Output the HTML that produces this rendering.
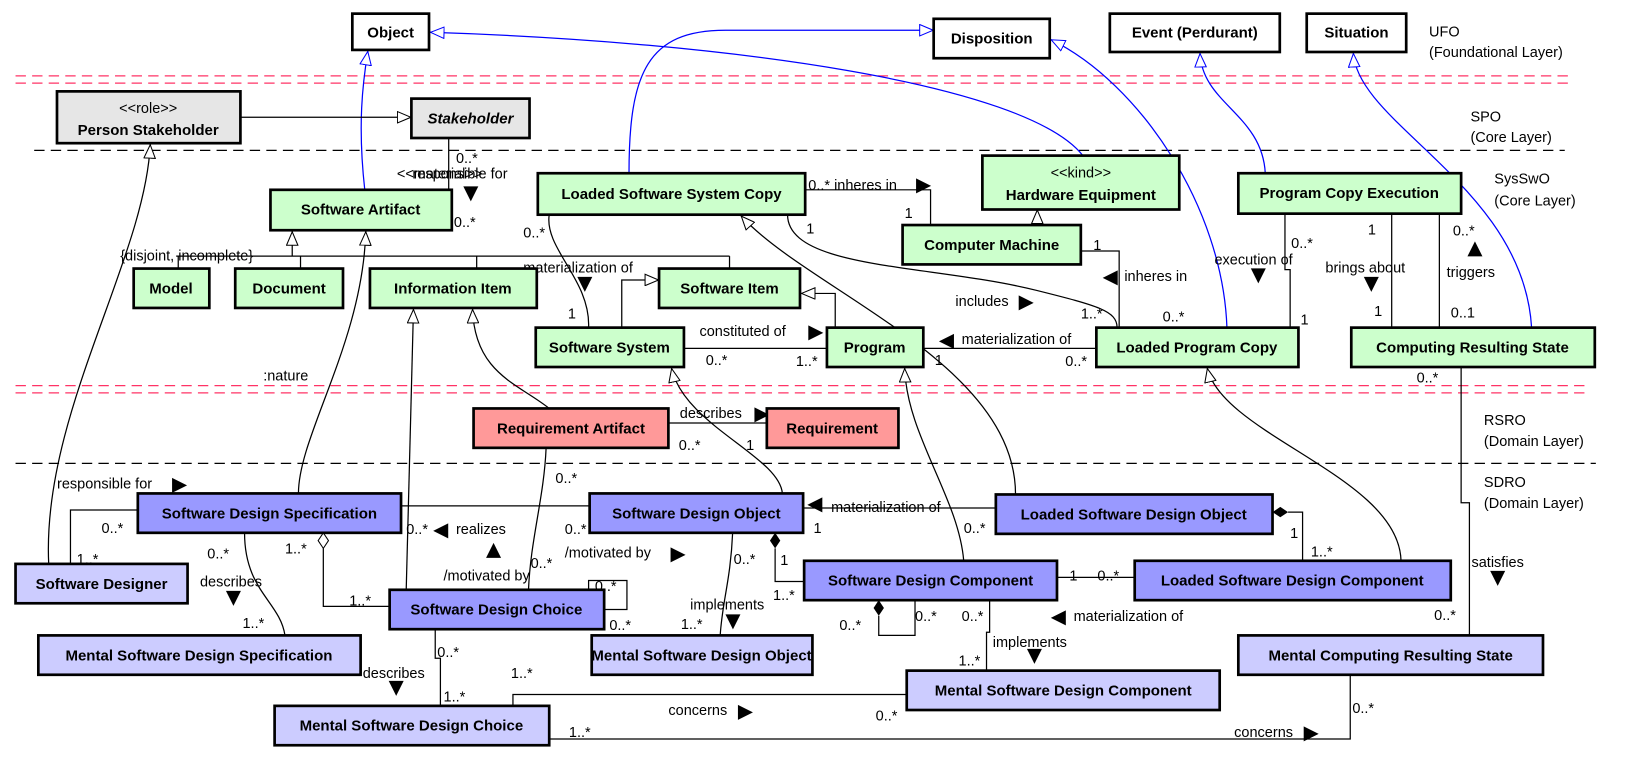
<!DOCTYPE html>
<html><head><meta charset="utf-8"><style>
html,body{margin:0;padding:0;background:#fff}
svg{display:block}
text{font-family:"Liberation Sans","DejaVu Sans",sans-serif;font-size:14px;fill:#000}
.b{font-weight:bold;text-anchor:middle;font-size:14.5px}
.a{font-family:"DejaVu Sans",sans-serif;font-size:19px}
.bx{stroke:#000;stroke-width:2.6}
.e{fill:none;stroke:#000;stroke-width:1.2}
.u{fill:none;stroke:#00f;stroke-width:1.2}
</style></head><body>
<svg width="1629" height="762" viewBox="0 0 1572 735" xmlns="http://www.w3.org/2000/svg">
<defs>
<marker id="t" viewBox="0 0 14 12" refX="14" refY="6" markerWidth="14" markerHeight="12" markerUnits="userSpaceOnUse" orient="auto"><path d="M0.5,0.5 L13.5,6 L0.5,11.5 z" fill="#fff" stroke="#000"/></marker>
<marker id="tb" viewBox="0 0 14 12" refX="14" refY="6" markerWidth="14" markerHeight="12" markerUnits="userSpaceOnUse" orient="auto"><path d="M0.5,0.5 L13.5,6 L0.5,11.5 z" fill="#fff" stroke="#00f"/></marker>
</defs>

<g stroke-dasharray="10,6" stroke-width="1.2">
<line x1="15" y1="73" x2="1518" y2="73" stroke="#ff3366"/>
<line x1="15" y1="80" x2="1518" y2="80" stroke="#ff3366"/>
<line x1="33" y1="145" x2="1510" y2="145" stroke="#000"/>
<line x1="15" y1="372" x2="1530" y2="372" stroke="#ff3366"/>
<line x1="15" y1="379" x2="1530" y2="379" stroke="#ff3366"/>
<line x1="15" y1="447" x2="1540" y2="447" stroke="#000"/>
</g>
<text x="1379" y="35">UFO</text><text x="1379" y="55">(Foundational Layer)</text>
<text x="1419" y="117">SPO</text><text x="1419" y="137">(Core Layer)</text>
<text x="1442" y="177">SysSwO</text><text x="1442" y="198">(Core Layer)</text>
<text x="1432" y="410">RSRO</text><text x="1432" y="430">(Domain Layer)</text>
<text x="1432" y="470">SDRO</text><text x="1432" y="490">(Domain Layer)</text>

<path class="u" marker-end="url(#tb)" d="M352,183 C345,120 350,80 355,49"/>
<path class="u" marker-end="url(#tb)" d="M607,167 C607,70 625,29 700,29 L901,29"/>
<path class="u" marker-end="url(#tb)" d="M1045,150 C990,80 700,40 415,31"/>
<path class="u" marker-end="url(#tb)" d="M1184,316 C1180,200 1100,80 1014,38"/>
<path class="u" marker-end="url(#tb)" d="M1221,167 C1218,110 1160,100 1158,51"/>
<path class="u" marker-end="url(#tb)" d="M1478,316 C1470,180 1310,120 1306,51"/>

<path class="e" marker-end="url(#t)" d="M232,113 L397,113"/>
<path class="e" d="M433,133 L433,201 L436,201"/>
<text x="440" y="157">0..*</text>
<text x="383" y="172">&lt;&lt;material&gt;&gt;</text><text x="398" y="172">responsible for</text>
<text x="447" y="192" class="a">▼</text>
<text x="438" y="219">0..*</text>
<path class="e" marker-end="url(#t)" d="M282,247 L282,223"/>
<path class="e" d="M170,247 L704,247 M172,247 L172,259 M290,247 L290,259 M460,247 L460,259 M704,247 L704,259"/>
<text x="116" y="251">{disjoint, incomplete}</text>
<path class="e" marker-end="url(#t)" d="M288,476 C288,420 350,330 353,223"/>
<text x="254" y="367">:nature</text>
<path class="e" marker-end="url(#t)" d="M47,544 C40,400 140,250 145,139"/>
<path class="e" marker-end="url(#t)" d="M600,316 L600,270 L636,270"/>
<path class="e" marker-end="url(#t)" d="M806,316 L806,283 L773,283"/>
<path class="e" d="M530,207 C525,240 570,270 568,316"/>
<text x="505" y="229">0..*</text><text x="505" y="263">materialization of</text><text x="557" y="279" class="a">▼</text><text x="548" y="307">1</text>
<path class="e" d="M777,183 L898,183 L898,217"/>
<text x="780" y="183">0..* inheres in</text><text x="884" y="184" class="a">▶</text><text x="873" y="210">1</text>
<path class="e" marker-end="url(#t)" d="M1001,217 L1001,202"/>
<path class="e" d="M1043,242 L1080,242 L1080,316"/>
<text x="1055" y="241">1</text><text x="1064" y="273" class="a">◀</text><text x="1085" y="271">inheres in</text><text x="1122" y="310">0..*</text>
<path class="e" d="M760,207 C760,260 900,255 1000,280 C1060,295 1078,300 1078,316"/>
<text x="778" y="225">1</text><text x="922" y="295">includes</text><text x="983" y="297" class="a">▶</text><text x="1043" y="307">1..*</text>
<path class="e" d="M660,336 L798,336"/>
<text x="675" y="324">constituted of</text><text x="780" y="326" class="a">▶</text><text x="681" y="352">0..*</text><text x="768" y="353">1..*</text>
<path class="e" d="M891,336 L1058,336"/>
<text x="906" y="334" class="a">◀</text><text x="928" y="332">materialization of</text><text x="902" y="352">1</text><text x="1028" y="353">0..*</text>
<path class="e" d="M1240,206 L1240,260 L1245,260 L1245,316"/>
<text x="1246" y="239">0..*</text><text x="1172" y="255">execution of</text><text x="1207" y="271" class="a">▼</text><text x="1255" y="313">1</text>
<path class="e" d="M1343,206 L1343,316 M1389,206 L1389,316"/>
<text x="1320" y="226">1</text><text x="1279" y="263">brings about</text><text x="1316" y="279" class="a">▼</text><text x="1326" y="305">1</text>
<text x="1402" y="227">0..*</text><text x="1416" y="245" class="a">▲</text><text x="1396" y="267">triggers</text><text x="1400" y="306">0..1</text>
<path class="e" d="M1410,354 L1410,485 L1418,485 L1418,613"/>
<text x="1367" y="369">0..*</text><text x="1420" y="547">satisfies</text><text x="1438" y="563" class="a">▼</text><text x="1384" y="598">0..*</text>
<path class="e" marker-end="url(#t)" d="M980,477 C980,350 780,280 715,208"/>
<path class="e" marker-end="url(#t)" d="M392,569 L399,298"/>
<path class="e" marker-end="url(#t)" d="M530,394 C500,370 458,360 456,298"/>
<path class="e" marker-end="url(#t)" d="M755,476 C752,440 660,410 648,355"/>
<path class="e" marker-end="url(#t)" d="M930,541 C925,480 875,420 873,355"/>
<path class="e" marker-end="url(#t)" d="M1352,541 C1350,460 1180,420 1165,355"/>
<path class="e" d="M645,408 L740,408"/>
<text x="656" y="403">describes</text><text x="728" y="405" class="a">▶</text><text x="655" y="434">0..*</text><text x="720" y="434">1</text>
<path class="e" d="M527,432 C525,480 512,520 510,569"/>
<text x="536" y="466">0..*</text><text x="512" y="548">0..*</text>
<path class="e" d="M387,488 L569,488"/>
<text x="392" y="515">0..*</text><text x="418" y="517" class="a">◀</text><text x="440" y="515">realizes</text><text x="545" y="515">0..*</text>
<text x="469" y="536" class="a">▲</text><text x="428" y="560">/motivated by</text>
<path class="e" d="M568,569 L568,560 L605,560 L605,588 L583,588"/>
<text x="545" y="538">/motivated by</text><text x="647" y="540" class="a">▶</text><text x="574" y="570">0..*</text><text x="588" y="608">0..*</text>
<path class="e" d="M312,529 L312,585 L376,585"/>
<polygon points="312,514 317,521.5 312,529 307,521.5" fill="#fff" stroke="#000"/>
<text x="275" y="534">1..*</text><text x="337" y="584">1..*</text>
<path class="e" d="M133,492 L68,492 L68,544"/>
<text x="98" y="514">0..*</text><text x="74" y="544">1..*</text><text x="55" y="471">responsible for</text><text x="166" y="473" class="a">▶</text>
<path class="e" d="M236,514 C236,570 270,580 275,613"/>
<text x="200" y="539">0..*</text><text x="193" y="566">describes</text><text x="218" y="582" class="a">▼</text><text x="234" y="606">1..*</text>
<path class="e" d="M420,607 L420,635 L425,635 L425,681"/>
<text x="422" y="634">0..*</text><text x="350" y="654">describes</text><text x="375" y="669" class="a">▼</text><text x="428" y="677">1..*</text><text x="493" y="654">1..*</text>
<path class="e" d="M495,681 L495,670 L875,670"/>
<text x="645" y="690">concerns</text><text x="712" y="692" class="a">▶</text><text x="845" y="695">0..*</text>
<path class="e" d="M530,713 L1303,713 L1303,651"/>
<text x="549" y="711">1..*</text><text x="1191" y="711">concerns</text><text x="1258" y="713" class="a">▶</text><text x="1305" y="688">0..*</text>
<path class="e" d="M775,490 L961,490"/>
<text x="779" y="492" class="a">◀</text><text x="802" y="494">materialization of</text><text x="785" y="514">1</text><text x="930" y="514">0..*</text>
<path class="e" d="M707,514 C705,560 697,580 695,613"/>
<text x="708" y="544">0..*</text><text x="666" y="588">implements</text><text x="700" y="605" class="a">▼</text><text x="657" y="607">1..*</text>
<path class="e" d="M748,529 L748,561 L776,561"/>
<polygon points="748,514 753,521.5 748,529 743,521.5" fill="#000"/>
<text x="753" y="545">1</text><text x="746" y="579">1..*</text>
<path class="e" d="M848,594 L848,613 L883,613 L883,579"/>
<polygon points="848,579 853,586.5 848,594 843,586.5" fill="#000"/>
<text x="810" y="608">0..*</text><text x="883" y="599">0..*</text>
<path class="e" d="M955,579 L955,610 L952,610 L952,647"/>
<text x="928" y="599">0..*</text><text x="958" y="624">implements</text><text x="991" y="638" class="a">▼</text><text x="925" y="642">1..*</text>
<path class="e" d="M1020,557 L1095,557"/>
<text x="1032" y="560">1</text><text x="1059" y="560">0..*</text><text x="1014" y="601" class="a">◀</text><text x="1036" y="599">materialization of</text>
<path class="e" d="M1243,494 L1257,494 L1257,541"/>
<polygon points="1228,494 1235.5,489 1243,494 1235.5,499" fill="#000"/>
<text x="1245" y="519">1</text><text x="1265" y="537">1..*</text>

<g class="bx">
<rect x="340" y="13" width="74" height="35" fill="#fff"/>
<rect x="901" y="18" width="112" height="38" fill="#fff"/>
<rect x="1071" y="13" width="164" height="37" fill="#fff"/>
<rect x="1261" y="13" width="96" height="37" fill="#fff"/>
<rect x="55" y="88" width="177" height="50" fill="#e6e6e6"/>
<rect x="397" y="95" width="114" height="38" fill="#e6e6e6"/>
<rect x="261" y="183" width="175" height="39" fill="#ccffcc"/>
<rect x="519" y="167" width="258" height="40" fill="#ccffcc"/>
<rect x="948" y="150" width="190" height="52" fill="#ccffcc"/>
<rect x="1195" y="167" width="215" height="39" fill="#ccffcc"/>
<rect x="871" y="217" width="172" height="38" fill="#ccffcc"/>
<rect x="129" y="259" width="73" height="38" fill="#ccffcc"/>
<rect x="227" y="259" width="104" height="38" fill="#ccffcc"/>
<rect x="357" y="259" width="161" height="38" fill="#ccffcc"/>
<rect x="636" y="259" width="136" height="38" fill="#ccffcc"/>
<rect x="517" y="316" width="143" height="38" fill="#ccffcc"/>
<rect x="798" y="316" width="93" height="38" fill="#ccffcc"/>
<rect x="1058" y="316" width="195" height="38" fill="#ccffcc"/>
<rect x="1304" y="316" width="235" height="38" fill="#ccffcc"/>
<rect x="457" y="394" width="188" height="38" fill="#ff9999"/>
<rect x="740" y="394" width="127" height="38" fill="#ff9999"/>
<rect x="133" y="476" width="254" height="38" fill="#9999ff"/>
<rect x="569" y="476" width="206" height="38" fill="#9999ff"/>
<rect x="961" y="477" width="267" height="38" fill="#9999ff"/>
<rect x="376" y="569" width="207" height="38" fill="#9999ff"/>
<rect x="776" y="541" width="244" height="38" fill="#9999ff"/>
<rect x="1095" y="541" width="305" height="38" fill="#9999ff"/>
<rect x="15" y="544" width="166" height="38" fill="#ccccff"/>
<rect x="37" y="613" width="311" height="38" fill="#ccccff"/>
<rect x="571" y="613" width="213" height="38" fill="#ccccff"/>
<rect x="1195" y="613" width="294" height="38" fill="#ccccff"/>
<rect x="875" y="647" width="302" height="38" fill="#ccccff"/>
<rect x="265" y="681" width="265" height="38" fill="#ccccff"/>
</g>
<text class="b" x="377" y="36">Object</text>
<text class="b" x="957" y="42">Disposition</text>
<text class="b" x="1153" y="36">Event (Perdurant)</text>
<text class="b" x="1309" y="36">Situation</text>
<text x="143" y="109" text-anchor="middle">&lt;&lt;role&gt;&gt;</text>
<text class="b" x="143" y="130">Person Stakeholder</text>
<text class="b" x="454" y="119" font-style="italic">Stakeholder</text>
<text class="b" x="348" y="207">Software Artifact</text>
<text class="b" x="648" y="192">Loaded Software System Copy</text>
<text x="1043" y="171" text-anchor="middle">&lt;&lt;kind&gt;&gt;</text>
<text class="b" x="1043" y="193">Hardware Equipment</text>
<text class="b" x="1302" y="191">Program Copy Execution</text>
<text class="b" x="957" y="241">Computer Machine</text>
<text class="b" x="165" y="283">Model</text>
<text class="b" x="279" y="283">Document</text>
<text class="b" x="437" y="283">Information Item</text>
<text class="b" x="704" y="283">Software Item</text>
<text class="b" x="588" y="340">Software System</text>
<text class="b" x="844" y="340">Program</text>
<text class="b" x="1155" y="340">Loaded Program Copy</text>
<text class="b" x="1421" y="340">Computing Resulting State</text>
<text class="b" x="551" y="418">Requirement Artifact</text>
<text class="b" x="803" y="418">Requirement</text>
<text class="b" x="260" y="500">Software Design Specification</text>
<text class="b" x="672" y="500">Software Design Object</text>
<text class="b" x="1094" y="501">Loaded Software Design Object</text>
<text class="b" x="479" y="593">Software Design Choice</text>
<text class="b" x="898" y="565">Software Design Component</text>
<text class="b" x="1247" y="565">Loaded Software Design Component</text>
<text class="b" x="98" y="568">Software Designer</text>
<text class="b" x="192" y="637">Mental Software Design Specification</text>
<text class="b" x="677" y="637">Mental Software Design Object</text>
<text class="b" x="1342" y="637">Mental Computing Resulting State</text>
<text class="b" x="1026" y="671">Mental Software Design Component</text>
<text class="b" x="397" y="705">Mental Software Design Choice</text>
</svg>
</body></html>
